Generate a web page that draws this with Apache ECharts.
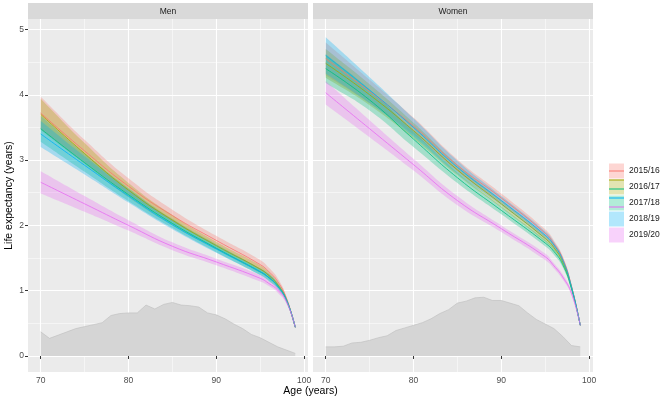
<!DOCTYPE html>
<html>
<head>
<meta charset="utf-8">
<script src="https://cdn.jsdelivr.net/npm/echarts@6/dist/echarts.min.js"></script>
<style>
  html, body { margin: 0; padding: 0; background: #fff; }
  #main { width: 666px; height: 399px; }
</style>
</head>
<body>
<div id="main"></div>
<script>
var ages = [70, 75, 80, 85, 90, 95, 96, 97, 98, 99]
var years = ['2015/16', '2016/17', '2017/18', '2018/19', '2019/20']
var panels = ['Men', 'Women']

// life expectancy (years), one row per year
var menMid = [
    [3.72, 3.14, 2.60, 2.15, 1.77, 1.40, 1.29, 1.14, 0.88, 0.44],
    [3.70, 3.10, 2.54, 2.08, 1.69, 1.33, 1.23, 1.09, 0.86, 0.44],
    [3.48, 2.96, 2.47, 2.03, 1.65, 1.29, 1.20, 1.07, 0.85, 0.44],
    [3.40, 2.92, 2.45, 2.01, 1.64, 1.29, 1.20, 1.07, 0.86, 0.44],
    [2.66, 2.33, 2.00, 1.68, 1.44, 1.19, 1.11, 1.01, 0.83, 0.44]
]
// half width of the confidence band
var menCi = [
    [0.25, 0.17, 0.12, 0.09, 0.07, 0.07, 0.06, 0.05, 0.03, 0.01],
    [0.24, 0.16, 0.11, 0.08, 0.06, 0.06, 0.05, 0.04, 0.03, 0.01],
    [0.20, 0.14, 0.10, 0.07, 0.06, 0.05, 0.05, 0.04, 0.03, 0.01],
    [0.20, 0.14, 0.10, 0.07, 0.06, 0.05, 0.05, 0.04, 0.03, 0.01],
    [0.17, 0.12, 0.08, 0.06, 0.05, 0.05, 0.04, 0.04, 0.03, 0.01]
]
var womenMid = [
    [4.55, 4.05, 3.52, 2.92, 2.42, 1.88, 1.72, 1.49, 1.07, 0.47],
    [4.48, 4.00, 3.45, 2.85, 2.33, 1.80, 1.66, 1.44, 1.05, 0.47],
    [4.40, 3.92, 3.32, 2.73, 2.23, 1.73, 1.60, 1.40, 1.03, 0.47],
    [4.60, 4.07, 3.50, 2.89, 2.38, 1.85, 1.70, 1.47, 1.06, 0.47],
    [4.03, 3.48, 2.93, 2.38, 1.95, 1.52, 1.38, 1.21, 0.96, 0.47]
]
var womenCi = [
    [0.25, 0.18, 0.13, 0.09, 0.07, 0.06, 0.05, 0.04, 0.03, 0.01],
    [0.22, 0.16, 0.12, 0.08, 0.06, 0.05, 0.05, 0.04, 0.03, 0.01],
    [0.22, 0.16, 0.12, 0.08, 0.06, 0.05, 0.05, 0.04, 0.03, 0.01],
    [0.28, 0.20, 0.14, 0.10, 0.07, 0.06, 0.05, 0.04, 0.03, 0.01],
    [0.18, 0.13, 0.09, 0.07, 0.05, 0.05, 0.04, 0.04, 0.03, 0.01]
]

// grey distribution in the background
var densAges = [70, 71, 72, 73, 74, 75, 76, 77, 78, 79, 80, 81, 82, 83, 84,
                85, 86, 87, 88, 89, 90, 91, 92, 93, 94, 95, 96, 97, 98, 99]
var menDens = [0.37, 0.27, 0.32, 0.37, 0.42, 0.45, 0.48, 0.51, 0.62, 0.65, 0.66, 0.66, 0.78, 0.72, 0.79,
               0.82, 0.78, 0.77, 0.75, 0.66, 0.63, 0.57, 0.49, 0.42, 0.33, 0.28, 0.21, 0.14, 0.09, 0.04]
var womenDens = [0.14, 0.14, 0.15, 0.20, 0.21, 0.24, 0.28, 0.31, 0.39, 0.43, 0.47, 0.51, 0.57, 0.65, 0.71,
                 0.81, 0.84, 0.89, 0.90, 0.85, 0.85, 0.81, 0.77, 0.66, 0.56, 0.49, 0.42, 0.30, 0.16, 0.14]

var xTicks = [70, 80, 90, 100]
var xMinor = [75, 85, 95]
var yTicks = [0, 1, 2, 3, 4, 5]
var yMinor = [0.5, 1.5, 2.5, 3.5, 4.5]

var colors = ['#F8766D', '#A3A500', '#00BF7D', '#00B0F6', '#E76BF3']
var fills = ['rgba(248,118,109,0.3)', 'rgba(163,165,0,0.3)', 'rgba(0,191,125,0.3)',
             'rgba(0,176,246,0.3)', 'rgba(231,107,243,0.3)']

var font = 'Liberation Sans, Arial, sans-serif'
var gridLeft = [28, 313]
var SMOOTH = 0.5

var myChart = echarts.init(document.querySelector('#main'), null, { renderer: 'canvas' })

// control points like the line series smoothing, so ribbon edges follow the lines
function ctrl(pts, i) {
    var p = pts[i], a = pts[i - 1] || p, b = pts[i + 1] || p
    var vx = b[0] - a[0], vy = b[1] - a[1]
    var l0 = Math.hypot(p[0] - a[0], p[1] - a[1])
    var l1 = Math.hypot(b[0] - p[0], b[1] - p[1])
    var r = (l0 + l1) ? l1 / (l0 + l1) : 0.5
    return [[p[0] - vx * SMOOTH * (1 - r), p[1] - vy * SMOOTH * (1 - r)],
            [p[0] + vx * SMOOTH * r, p[1] + vy * SMOOTH * r]]
}
function curveTo(pts) {
    var d = ''
    for (var i = 0; i < pts.length - 1; i++) {
        var c0 = ctrl(pts, i)[1], c1 = ctrl(pts, i + 1)[0], q = pts[i + 1]
        d += ' C' + c0[0] + ',' + c0[1] + ' ' + c1[0] + ',' + c1[1] + ' ' + q[0] + ',' + q[1]
    }
    return d
}

var xAxis = [], yAxis = [], grid = [], series = [], graphic = []

panels.forEach(function (p, g) {
    grid.push({ left: gridLeft[g], top: 19, width: 280, height: 353, show: true,
        backgroundColor: '#EBEBEB', borderWidth: 0 })
    // major
    xAxis.push({ type: 'value', gridIndex: g, min: 68.55, max: 100.45,
        axisLine: { show: false },
        axisTick: { length: 3, lineStyle: { color: '#333' }, customValues: xTicks },
        axisLabel: { customValues: xTicks, margin: 4, fontSize: 8.5, color: '#4D4D4D', fontFamily: font },
        splitLine: { show: true, lineStyle: { color: '#fff', width: 1.1 } } })
    // minor
    xAxis.push({ type: 'value', gridIndex: g, min: 68.55, max: 100.45,
        axisLine: { show: false },
        axisTick: { show: false, customValues: xMinor },
        axisLabel: { show: false, customValues: xMinor },
        splitLine: { show: true, lineStyle: { color: '#fff', width: 0.5 } } })
    yAxis.push({ type: 'value', gridIndex: g, min: -0.245, max: 5.16,
        axisLine: { show: false },
        axisTick: { show: g === 0, length: 3, lineStyle: { color: '#333' }, customValues: yTicks },
        axisLabel: { show: g === 0, customValues: yTicks, margin: 4, fontSize: 8.5, color: '#4D4D4D', fontFamily: font },
        splitLine: { show: true, lineStyle: { color: '#fff', width: 1.1 } } })
    yAxis.push({ type: 'value', gridIndex: g, min: -0.245, max: 5.16,
        axisLine: { show: false },
        axisTick: { show: false, customValues: yMinor },
        axisLabel: { show: false, customValues: yMinor },
        splitLine: { show: true, lineStyle: { color: '#fff', width: 0.5 } } })

    // strip on top
    graphic.push({ type: 'rect', shape: { x: gridLeft[g], y: 3, width: 280, height: 16 },
        style: { fill: '#D9D9D9' }, silent: true })
    graphic.push({ type: 'text', x: gridLeft[g] + 140, y: 11.5, silent: true,
        style: { text: p, fill: '#1A1A1A', font: '8.5px ' + font, align: 'center', verticalAlign: 'middle',
            textAlign: 'center', textVerticalAlign: 'middle' } })

    var dens = g === 0 ? menDens : womenDens
    series.push({ type: 'line', name: 'density', xAxisIndex: 2 * g, yAxisIndex: 2 * g,
        data: densAges.map(function (a, j) { return [a, dens[j]] }),
        showSymbol: false, silent: true,
        lineStyle: { color: '#BDBDBD', width: 0.6 },
        areaStyle: { color: '#D5D5D5', opacity: 1 } })
})

// ribbons
panels.forEach(function (p, g) {
    var mids = g === 0 ? menMid : womenMid
    var cis = g === 0 ? menCi : womenCi
    years.forEach(function (y, k) {
        var hi = mids[k].map(function (v, j) { return v + cis[k][j] })
        var lo = mids[k].map(function (v, j) { return v - cis[k][j] })
        series.push({
            type: 'custom', name: y + ' band', xAxisIndex: 2 * g, yAxisIndex: 2 * g, silent: true,
            data: ages.map(function (a, j) { return [a, lo[j], hi[j]] }),
            encode: { x: 0, y: [1, 2] },
            renderItem: function (params, api) {
                if (params.dataIndex !== 0) return
                var up = ages.map(function (a, j) { return api.coord([a, hi[j]]) })
                var dn = ages.map(function (a, j) { return api.coord([a, lo[j]]) }).reverse()
                var d = 'M' + up[0][0] + ',' + up[0][1] + curveTo(up) +
                        ' L' + dn[0][0] + ',' + dn[0][1] + curveTo(dn) + ' Z'
                return { type: 'path', shape: { pathData: d }, style: { fill: fills[k] } }
            }
        })
    })
})

// centre lines
panels.forEach(function (p, g) {
    var mids = g === 0 ? menMid : womenMid
    years.forEach(function (y, k) {
        series.push({
            type: 'line', name: y, xAxisIndex: 2 * g, yAxisIndex: 2 * g, silent: true,
            data: ages.map(function (a, j) { return [a, mids[k][j]] }),
            smooth: SMOOTH, showSymbol: false, symbol: 'rect',
            lineStyle: { color: colors[k], width: 0.8 },
            itemStyle: { color: colors[k] }
        })
    })
})

// axis titles
graphic.push({ type: 'text', x: 310.5, y: 391, silent: true,
    style: { text: 'Age (years)', fill: '#000', font: '10.5px ' + font, align: 'center', verticalAlign: 'middle',
        textAlign: 'center', textVerticalAlign: 'middle' } })
graphic.push({ type: 'text', x: 9, y: 195.5, rotation: Math.PI / 2, silent: true,
    style: { text: 'Life expectancy (years)', fill: '#000', font: '10.5px ' + font, align: 'center', verticalAlign: 'middle',
        textAlign: 'center', textVerticalAlign: 'middle' } })

var option = {
    animation: false,
    backgroundColor: '#fff',
    grid: grid,
    xAxis: xAxis,
    yAxis: yAxis,
    legend: [
        {   // filled keys + labels
            orient: 'vertical', left: 609, top: 163.5, padding: 0,
            itemWidth: 15, itemHeight: 15, itemGap: 1, selectedMode: false,
            icon: 'rect',
            itemStyle: { borderWidth: 0 },
            textStyle: { fontSize: 8.5, color: '#1A1A1A', fontFamily: font },
            data: years.map(function (y, k) { return { name: y, itemStyle: { color: fills[k] } } })
        },
        {   // line through each key
            orient: 'vertical', left: 609, top: 163.5, padding: 0,
            itemWidth: 15, itemHeight: 15, itemGap: 1, selectedMode: false,
            icon: 'path://M0,0H15V1H0Z',
            itemStyle: { borderWidth: 0 },
            formatter: function () { return '' },
            textStyle: { fontSize: 8.5 },
            data: years.map(function (y, k) { return { name: y, itemStyle: { color: colors[k] } } })
        }
    ],
    graphic: graphic,
    series: series
}

myChart.setOption(option)
window.addEventListener('resize', function () {
    myChart.resize()
})
</script>
</body>
</html>
